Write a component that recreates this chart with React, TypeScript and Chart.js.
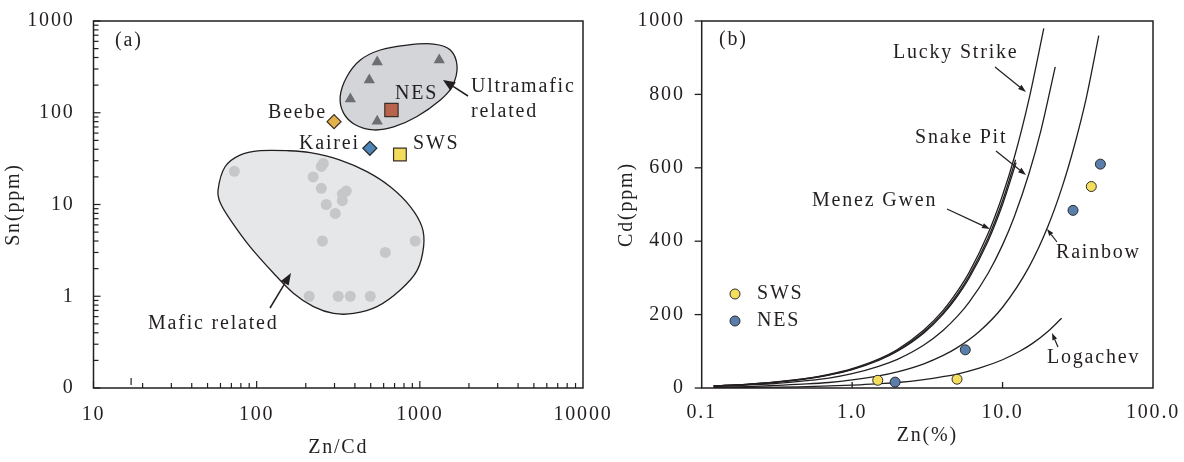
import React, { useEffect, useRef } from 'react';
import { Chart, registerables } from 'chart.js';

Chart.register(...registerables);

const FONT = '"Liberation Serif", "Times New Roman", "DejaVu Serif", serif';
const FONT_SIZE = 20;
const INK = '#231f20';
const LS = '1.8px';

// ---------------- Panel (a) ----------------
const znCdTicks = [10, 100, 1000, 10000];
const znCdTickLabels = ['10', '100', '1000', '10000'];
const snTicks = [0.1, 1, 10, 100, 1000];
const snTickLabels = ['0', '1', '10', '100', '1000'];

const maficZnCd = [73, 256, 249, 222, 249, 354, 335, 335, 267, 303, 253, 937, 614, 210, 316, 375, 497];
const maficSn = [23, 28, 26, 20, 15, 14, 13, 11, 10, 8, 4, 4, 3, 1, 1, 1, 1];
const ultramaficZnCd = [548, 1315, 490, 375, 548];
const ultramaficSn = [357, 376, 227, 141, 81];
const nesZnCd = [670];
const nesSn = [107];
const swsZnCd = [755];
const swsSn = [35];
const beebeZnCd = [298];
const beebeSn = [80];
const kaireiZnCd = [494];
const kaireiSn = [41];

// field outlines (data coordinates)
const ultramaficFieldZnCd = [325, 357, 432, 572, 835, 1216, 1538, 1692, 1577, 1336, 961, 691, 521, 402, 341];
const ultramaficFieldSn = [150, 247, 376, 483, 547, 561, 483, 318, 192, 138, 91, 70, 65, 74, 99];
const maficFieldZnCd = [58, 64, 79, 105, 153, 213, 325, 474, 659, 874, 1031, 1055, 961, 759, 546, 393, 296, 223, 168, 127, 91, 69, 60];
const maficFieldSn = [14.4, 25.8, 34.6, 38.6, 38.6, 36.7, 30.5, 22.8, 15.6, 9.5, 5.7, 3.5, 1.9, 1.17, 0.77, 0.65, 0.65, 0.77, 1.08, 1.78, 3.47, 6.8, 10.3];

// ---------------- Panel (b) ----------------
const zincTicks = [0.1, 1, 10, 100];
const zincTickLabels = ['0.1', '1.0', '10.0', '100.0'];
const cdTicks = [0, 200, 400, 600, 800, 1000];
const cdTickLabels = ['0', '200', '400', '600', '800', '1000'];

const swsZn = [1.48, 4.98, 38.9];
const swsCd = [21, 24, 549];
const nesZn = [1.93, 5.65, 29.4, 44.7];
const nesCd = [16, 104, 484, 610];

const luckyStrikeZn = [0.12, 0.2, 0.3, 0.5, 0.7, 1, 1.5, 2, 3, 4, 5, 6, 8, 10, 12, 15, 18.8];
const luckyStrikeCd = [6, 10, 16, 26, 37, 53, 79, 105, 158, 210, 263, 315, 420, 525, 630, 788, 980];
const menezGwenZn = [0.12, 0.2, 0.3, 0.5, 0.7, 1, 1.5, 2, 3, 4, 5, 6, 8, 10, 12.2];
const menezGwenCd = [6, 10, 15, 26, 36, 51, 77, 102, 153, 204, 255, 306, 408, 510, 622];
const menezGwen2Zn = [0.12, 0.2, 0.3, 0.5, 0.7, 1, 1.5, 2, 3, 4, 5, 6, 8, 10, 12.3];
const menezGwen2Cd = [6, 10, 15, 25, 35, 50, 75, 100, 150, 200, 250, 300, 400, 500, 614];
const snakePitZn = [0.12, 0.2, 0.3, 0.5, 0.7, 1, 1.5, 2, 3, 4, 5, 6, 8, 10, 12, 15, 18, 22.4];
const snakePitCd = [5, 8, 12, 20, 27, 39, 59, 78, 117, 156, 195, 234, 312, 390, 468, 585, 702, 875];
const rainbowZn = [0.12, 0.2, 0.3, 0.5, 0.7, 1, 1.5, 2, 3, 4, 5, 7, 10, 15, 20, 25, 30, 36, 43.6];
const rainbowCd = [3, 4, 7, 11, 15, 22, 33, 44, 66, 88, 110, 154, 220, 330, 440, 550, 660, 790, 960];
const logachevZn = [0.12, 0.2, 0.5, 1, 1.5, 2, 3, 4, 5, 7, 10, 13, 16, 20, 24.7];
const logachevCd = [1, 2, 4, 8, 12, 15, 23, 31, 38, 54, 77, 100, 123, 154, 190];

// ---------------- helpers ----------------
const pts = (xs: number[], ys: number[]) => xs.map((x, i) => ({ x, y: ys[i] }));
const axisFont = () => ({ family: FONT, size: FONT_SIZE });

function label(ctx: any, s: string, x: number, y: number, align: CanvasTextAlign = 'left') {
  ctx.font = `${FONT_SIZE}px ${FONT}`;
  ctx.fillStyle = INK;
  ctx.textAlign = align;
  ctx.textBaseline = 'middle';
  ctx.fillText(s, x, y);
}

function arrow(ctx: any, x1: number, y1: number, x2: number, y2: number, headLen: number, headW: number, lw = 1.3) {
  const ang = Math.atan2(y2 - y1, x2 - x1);
  const bx = x2 - headLen * Math.cos(ang);
  const by = y2 - headLen * Math.sin(ang);
  ctx.save();
  ctx.strokeStyle = INK;
  ctx.fillStyle = INK;
  ctx.lineWidth = lw;
  ctx.beginPath();
  ctx.moveTo(x1, y1);
  ctx.lineTo(bx, by);
  ctx.stroke();
  ctx.beginPath();
  ctx.moveTo(x2, y2);
  ctx.lineTo(bx + (headW / 2) * Math.sin(ang), by - (headW / 2) * Math.cos(ang));
  ctx.lineTo(bx - (headW / 2) * Math.sin(ang), by + (headW / 2) * Math.cos(ang));
  ctx.closePath();
  ctx.fill();
  ctx.restore();
}

function drawField(ctx: any, xs: number[], ys: number[], sx: any, sy: any, fill: string) {
  const p = xs.map((v, i) => ({ x: sx.getPixelForValue(v), y: sy.getPixelForValue(ys[i]) }));
  const n = p.length;
  ctx.save();
  ctx.beginPath();
  ctx.moveTo(p[0].x, p[0].y);
  for (let i = 0; i < n; i++) {
    const p0 = p[(i - 1 + n) % n], p1 = p[i], p2 = p[(i + 1) % n], p3 = p[(i + 2) % n];
    ctx.bezierCurveTo(
      p1.x + (p2.x - p0.x) / 6, p1.y + (p2.y - p0.y) / 6,
      p2.x - (p3.x - p1.x) / 6, p2.y - (p3.y - p1.y) / 6,
      p2.x, p2.y
    );
  }
  ctx.closePath();
  ctx.fillStyle = fill;
  ctx.fill();
  ctx.lineWidth = 1.3;
  ctx.strokeStyle = INK;
  ctx.stroke();
  ctx.restore();
}

function frame(ctx: any, a: any) {
  ctx.save();
  ctx.strokeStyle = INK;
  ctx.lineWidth = 1.5;
  ctx.strokeRect(a.left, a.top, a.right - a.left, a.bottom - a.top);
  ctx.restore();
}

function tickLine(ctx: any, x1: number, y1: number, x2: number, y2: number) {
  ctx.beginPath();
  ctx.moveTo(x1, y1);
  ctx.lineTo(x2, y2);
  ctx.stroke();
}

const letterSpacingPlugin = {
  id: 'letterSpacing',
  beforeUpdate(chart: any) { chart.ctx.letterSpacing = LS; },
  beforeDraw(chart: any) { chart.ctx.letterSpacing = LS; },
};

// ---------------- panel (a) decorations ----------------
const panelAPlugin = {
  id: 'panelA',
  beforeDatasetsDraw(chart: any) {
    const { ctx, scales } = chart;
    drawField(ctx, maficFieldZnCd, maficFieldSn, scales.x, scales.y, '#e6e7e9');
    drawField(ctx, ultramaficFieldZnCd, ultramaficFieldSn, scales.x, scales.y, '#d4d5d9');
  },
  afterDatasetsDraw(chart: any) {
    const { ctx, chartArea: a, scales } = chart;
    const { x, y } = scales;
    frame(ctx, a);
    ctx.save();
    ctx.strokeStyle = INK;
    ctx.lineWidth = 1.2;
    // log minor/major ticks, inside
    for (let e = -1; e <= 3; e++) {
      for (let m = 1; m <= 9; m++) {
        const v = m * Math.pow(10, e);
        if (v >= 0.1 && v <= 1000 + 1e-9) {
          const py = y.getPixelForValue(v);
          tickLine(ctx, a.left, py, a.left + (m === 1 ? 7 : 5), py);
        }
        if (v >= 10 && v <= 10000 + 1e-9) {
          const px = x.getPixelForValue(v);
          tickLine(ctx, px, a.bottom, px, a.bottom - (m === 1 ? 7 : 5));
        }
      }
    }
    const sp = x.getPixelForValue(17);
    tickLine(ctx, sp, a.bottom - 10, sp, a.bottom - 3);
    ctx.restore();

    ctx.save();
    ctx.letterSpacing = LS;
    label(ctx, '(a)', 115, 41);
    label(ctx, 'Beebe', 268, 113);
    label(ctx, 'Kairei', 299, 144);
    label(ctx, 'SWS', 413, 144);
    label(ctx, 'NES', 395, 94);
    label(ctx, 'Ultramafic', 471, 87);
    label(ctx, 'related', 471, 112);
    label(ctx, 'Mafic related', 148, 324);
    ctx.restore();

    arrow(ctx, 468, 96, 443, 80, 12, 10, 1.5);
    arrow(ctx, 270, 308, 291, 273, 12, 9, 1.5);
  },
};

// ---------------- panel (b) decorations ----------------
const panelBPlugin = {
  id: 'panelB',
  afterDatasetsDraw(chart: any) {
    const { ctx, chartArea: a, scales } = chart;
    const { x, y } = scales;
    frame(ctx, a);
    ctx.save();
    ctx.strokeStyle = INK;
    ctx.lineWidth = 1.3;
    cdTicks.forEach((v) => {
      const py = y.getPixelForValue(v);
      tickLine(ctx, a.left - 7, py, a.left, py);
    });
    [1, 10].forEach((v) => {
      const px = x.getPixelForValue(v);
      tickLine(ctx, px, a.bottom, px, a.bottom - 6);
    });
    ctx.restore();

    // legend markers
    ctx.save();
    ctx.lineWidth = 1;
    ctx.strokeStyle = '#2b2b2b';
    ctx.beginPath();
    ctx.arc(135, 294, 5, 0, Math.PI * 2);
    ctx.fillStyle = '#f4de5c';
    ctx.fill();
    ctx.stroke();
    ctx.beginPath();
    ctx.arc(135, 321, 5, 0, Math.PI * 2);
    ctx.fillStyle = '#5a7eac';
    ctx.fill();
    ctx.stroke();
    ctx.restore();

    ctx.save();
    ctx.letterSpacing = LS;
    label(ctx, '(b)', 119, 40);
    label(ctx, 'Lucky Strike', 293, 53);
    label(ctx, 'Snake Pit', 315, 138);
    label(ctx, 'Menez Gwen', 212, 201);
    label(ctx, 'Rainbow', 456, 253);
    label(ctx, 'Logachev', 447, 358);
    label(ctx, 'SWS', 157, 294);
    label(ctx, 'NES', 157, 321);
    ctx.restore();

    arrow(ctx, 395, 67, 426, 92, 8, 5.5, 1.2);
    arrow(ctx, 396, 151, 426, 175, 8, 5.5, 1.2);
    arrow(ctx, 347, 209, 390, 229, 8, 5.5, 1.2);
    arrow(ctx, 457, 242, 447, 229, 7, 5, 1.2);
    arrow(ctx, 458, 347, 452, 333, 7, 5, 1.2);
  },
};

function baseScale(extra: any) {
  return {
    grid: { display: false, drawTicks: false },
    border: { display: false },
    ...extra,
  };
}

function configA(): any {
  const marker = (xs: number[], ys: number[], style: string, r: number, bg: string, border: string, bw: number) => ({
    data: pts(xs, ys),
    pointStyle: style,
    pointRadius: r,
    backgroundColor: bg,
    borderColor: border,
    borderWidth: bw,
  });
  return {
    type: 'scatter',
    data: {
      datasets: [
        marker(nesZnCd, nesSn, 'rect', 9.4, '#b8634b', '#3a2e28', 1.2),
        marker(swsZnCd, swsSn, 'rect', 9, '#f3dc5c', '#3a2e28', 1.2),
        marker(beebeZnCd, beebeSn, 'rectRot', 7, '#e3b14b', '#3a2e28', 1.2),
        marker(kaireiZnCd, kaireiSn, 'rectRot', 7, '#4f86b9', '#2b2b2b', 1.2),
        marker(ultramaficZnCd, ultramaficSn, 'triangle', 6.5, '#6d6e71', '#6d6e71', 0),
        marker(maficZnCd, maficSn, 'circle', 5.5, '#c6c7c9', '#c6c7c9', 0),
      ],
    },
    options: {
      animation: false,
      responsive: false,
      events: [],
      layout: { padding: { left: 0, top: 21, right: 37, bottom: 0 } },
      plugins: { legend: { display: false }, tooltip: { enabled: false } },
      scales: {
        x: baseScale({
          type: 'logarithmic',
          position: 'bottom',
          min: 10,
          max: 10000,
          afterBuildTicks: (s: any) => { s.ticks = znCdTicks.map((v) => ({ value: v })); },
          afterFit: (s: any) => { s.height = 74; s.paddingLeft = 0; s.paddingRight = 0; },
          ticks: {
            autoSkip: false, maxRotation: 0, minRotation: 0, padding: 15, color: INK, font: axisFont(),
            callback: (_v: any, i: number) => znCdTickLabels[i],
          },
          title: { display: true, text: 'Zn/Cd', color: INK, font: axisFont(), padding: { top: 0, bottom: 2 } },
        }),
        y: baseScale({
          type: 'logarithmic',
          position: 'left',
          min: 0.1,
          max: 1000,
          afterBuildTicks: (s: any) => { s.ticks = snTicks.map((v) => ({ value: v })); },
          afterFit: (s: any) => { s.width = 93.5; s.paddingTop = 0; s.paddingBottom = 0; },
          ticks: {
            autoSkip: false, padding: 19, color: INK, font: axisFont(),
            callback: (_v: any, i: number) => snTickLabels[i],
          },
          title: { display: true, text: 'Sn(ppm)', color: INK, font: axisFont(), padding: { top: 2, bottom: 0 } },
        }),
      },
    },
    plugins: [letterSpacingPlugin, panelAPlugin],
  };
}

function configB(): any {
  const curve = (xs: number[], ys: number[], name: string) => ({
    label: name,
    data: pts(xs, ys),
    showLine: true,
    cubicInterpolationMode: 'monotone',
    borderColor: INK,
    borderWidth: 1.3,
    pointRadius: 0,
    fill: false,
  });
  const dots = (xs: number[], ys: number[], name: string, color: string) => ({
    label: name,
    data: pts(xs, ys),
    pointStyle: 'circle',
    pointRadius: 5,
    backgroundColor: color,
    borderColor: '#2b2b2b',
    borderWidth: 1,
  });
  return {
    type: 'scatter',
    data: {
      datasets: [
        dots(swsZn, swsCd, 'SWS', '#f4de5c'),
        dots(nesZn, nesCd, 'NES', '#5a7eac'),
        curve(luckyStrikeZn, luckyStrikeCd, 'Lucky Strike'),
        curve(menezGwenZn, menezGwenCd, 'Menez Gwen'),
        curve(menezGwen2Zn, menezGwen2Cd, 'Menez Gwen'),
        curve(snakePitZn, snakePitCd, 'Snake Pit'),
        curve(rainbowZn, rainbowCd, 'Rainbow'),
        curve(logachevZn, logachevCd, 'Logachev'),
      ],
    },
    options: {
      animation: false,
      responsive: false,
      events: [],
      layout: { padding: { left: 0, top: 21, right: 31, bottom: 0 } },
      plugins: { legend: { display: false }, tooltip: { enabled: false } },
      scales: {
        x: baseScale({
          type: 'logarithmic',
          position: 'bottom',
          min: 0.1,
          max: 100,
          afterBuildTicks: (s: any) => { s.ticks = zincTicks.map((v) => ({ value: v })); },
          afterFit: (s: any) => { s.height = 74; s.paddingLeft = 0; s.paddingRight = 0; },
          ticks: {
            autoSkip: false, maxRotation: 0, minRotation: 0, padding: 13, color: INK, font: axisFont(),
            callback: (_v: any, i: number) => zincTickLabels[i],
          },
          title: { display: true, text: 'Zn(%)', color: INK, font: axisFont(), padding: { top: 0, bottom: 14 } },
        }),
        y: baseScale({
          type: 'linear',
          position: 'left',
          min: 0,
          max: 1000,
          afterBuildTicks: (s: any) => { s.ticks = cdTicks.map((v) => ({ value: v })); },
          afterFit: (s: any) => { s.width = 101.7; s.paddingTop = 0; s.paddingBottom = 0; },
          ticks: {
            autoSkip: false, padding: 17, color: INK, font: axisFont(),
            callback: (_v: any, i: number) => cdTickLabels[i],
          },
          title: { display: true, text: 'Cd(ppm)', color: INK, font: axisFont(), padding: { top: 15, bottom: 0 } },
        }),
      },
    },
    plugins: [letterSpacingPlugin, panelBPlugin],
  };
}

export default function App() {
  const refA = useRef<HTMLCanvasElement>(null);
  const refB = useRef<HTMLCanvasElement>(null);
  useEffect(() => {
    const a = new Chart(refA.current as HTMLCanvasElement, configA());
    const b = new Chart(refB.current as HTMLCanvasElement, configB());
    return () => {
      a.destroy();
      b.destroy();
    };
  }, []);
  return (
    <div style={{ position: 'absolute', left: 0, top: 0, width: 1184, height: 462, background: '#ffffff' }}>
      <canvas ref={refA} width={620} height={462} style={{ position: 'absolute', left: 0, top: 0 }} />
      <canvas ref={refB} width={584} height={462} style={{ position: 'absolute', left: 600, top: 0 }} />
    </div>
  );
}
